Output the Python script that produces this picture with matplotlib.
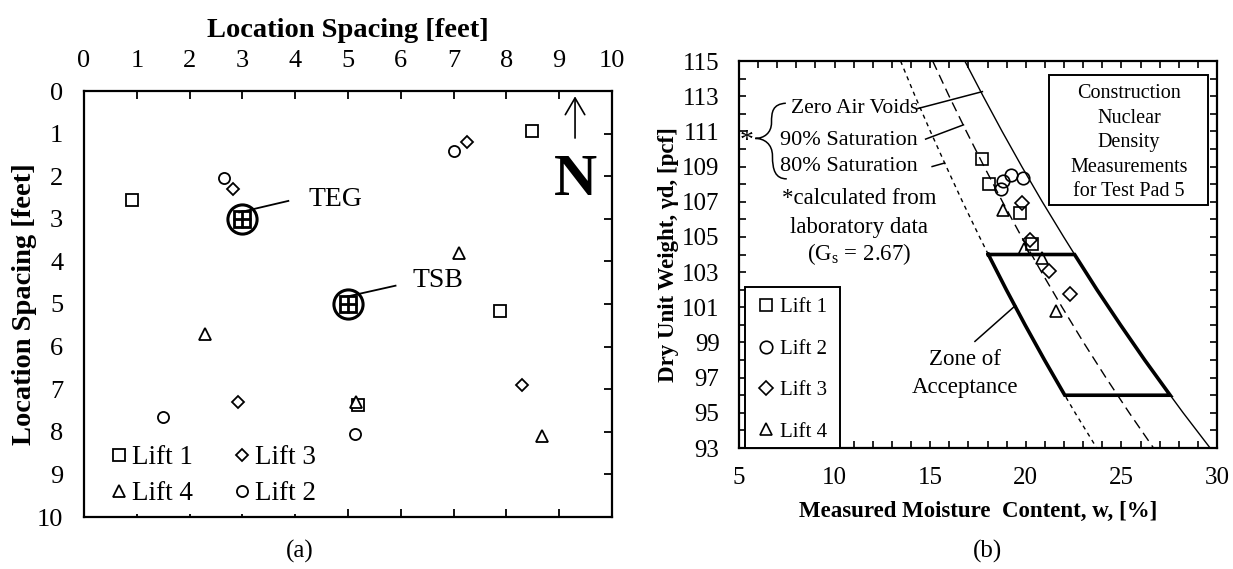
import numpy as np
import matplotlib
matplotlib.use('Agg')
import matplotlib.pyplot as plt
from matplotlib.lines import Line2D
from matplotlib.patches import FancyArrowPatch, Rectangle, PathPatch
from matplotlib.path import Path

plt.rcParams['font.family'] = ['Liberation Serif', 'DejaVu Serif']
plt.rcParams['mathtext.fontset'] = 'custom'
plt.rcParams['mathtext.rm'] = 'Liberation Serif'

# ---- (a) test locations on the pad [feet] ----
lift1_x = [0.9, 8.48, 7.87, 5.18]
lift1_y = [2.55, 0.93, 5.17, 7.38]
lift2_x = [2.65, 7.0, 1.5, 5.13]
lift2_y = [2.05, 1.4, 7.65, 8.05]
lift3_x = [2.83, 7.25, 2.92, 8.3]
lift3_y = [2.3, 1.2, 7.3, 6.9]
lift4_x = [7.1, 2.3, 5.15, 8.67]
lift4_y = [3.8, 5.7, 7.3, 8.1]
probe_names = ['TEG', 'TSB']
probe_x = [3.0, 5.0]
probe_y = [3.0, 5.0]

# ---- (b) nuclear density gauge readings ----
w_lift1 = [17.7, 18.1, 19.7, 20.35]
gd_lift1 = [109.45, 108.0, 106.35, 104.6]
w_lift2 = [18.7, 18.8, 19.25, 19.85]
gd_lift2 = [107.7, 108.15, 108.5, 108.35]
w_lift3 = [19.8, 20.2, 21.2, 22.3]
gd_lift3 = [106.9, 104.85, 103.05, 101.75]
w_lift4 = [18.8, 19.9, 20.85, 21.6]
gd_lift4 = [106.55, 104.3, 103.8, 100.8]

# saturation curves (Gs = 2.67)
gd_levels = [115, 113, 111, 109, 107, 105, 103, 101, 99, 97, 95, 93]
w_zav = [16.81, 17.77, 18.76, 19.79, 20.86, 21.98, 23.13, 24.33, 25.58, 26.88, 28.23, 29.64]
w_sat90 = [15.13, 15.99, 16.89, 17.82, 18.78, 19.78, 20.82, 21.90, 23.02, 24.19, 25.41, 26.68]
w_sat80 = [13.45, 14.21, 15.01, 15.84, 16.69, 17.58, 18.50, 19.46, 20.46, 21.50, 22.58, 23.71]

# zone of acceptance: 80% saturation to zero air voids, 96-104 pcf
zone_gd = [104, 102, 100, 98, 96]
zone_w_left = [18.04, 18.98, 19.96, 20.98, 22.04]
zone_w_right = [22.55, 23.72, 24.95, 26.22, 27.55]

W, H = 1233, 569
fig = plt.figure(figsize=(W / 100, H / 100), dpi=100)

# ================= panel (a) =================
axL = fig.add_axes([84 / W, 1 - 517 / H, 528 / W, 426 / H])
axL.set_xlim(0, 10)
axL.set_ylim(10, 0)
axL.set_xticks(range(11))
axL.set_yticks(range(11))
axL.xaxis.tick_top()
axL.xaxis.set_label_position('top')
axL.tick_params(axis='x', top=True, bottom=True, labeltop=True, labelbottom=False,
                direction='in', length=6, width=1.3, labelsize=19, pad=14)
axL.tick_params(axis='y', left=True, right=True, direction='in', length=6,
                width=1.3, labelsize=19, pad=15)
for t in axL.yaxis.get_major_ticks():
    t.tick1line.set_visible(False)
for s in axL.spines.values():
    s.set_linewidth(1.6)
axL.set_xlabel('Location Spacing [feet]', fontsize=20.5, fontweight='bold', labelpad=9)
axL.set_ylabel('Location Spacing [feet]', fontsize=20.5, fontweight='bold', labelpad=0)

mk = dict(ls='none', mfc='white', mec='black', mew=1.3, ms=8)
axL.plot(lift1_x, lift1_y, marker='s', **mk)
axL.plot(lift2_x, lift2_y, marker='o', **mk)
axL.plot(lift3_x, lift3_y, marker='D', **dict(mk, ms=6.5))
axL.plot(lift4_x, lift4_y, marker='^', **mk)

# probe symbols: circle with a gridded square
axL.plot(probe_x, probe_y, ls='none', marker='o', ms=21, mfc='white', mec='black', mew=2.2)
axL.plot(probe_x, probe_y, ls='none', marker='s', ms=12, mfc='none', mec='black', mew=2.0)
axL.plot(probe_x, probe_y, ls='none', marker='+', ms=13, mec='black', mew=2.0)
leader = {'TEG': ((2.94, 2.85), (3.87, 2.58), (4.25, 2.55)),
          'TSB': ((5.0, 4.82), (5.9, 4.57), (6.23, 4.45))}
for name in probe_names:
    p0, p1, pt = leader[name]
    axL.plot([p0[0], p1[0]], [p0[1], p1[1]], color='black', lw=1.3)
    axL.text(pt[0], pt[1], name, fontsize=20, ha='left', va='center')

# north arrow
axL.add_patch(FancyArrowPatch((9.3, 1.17), (9.3, 0.06),
                              arrowstyle='->,head_length=12,head_width=7',
                              mutation_scale=1, lw=1.2, color='black'))
axL.text(9.3, 2.12, 'N', fontsize=43, fontweight='bold', ha='center', va='center')

hL = [Line2D([], [], marker='s', **mk), Line2D([], [], marker='^', **mk),
      Line2D([], [], marker='D', **dict(mk, ms=6.5)), Line2D([], [], marker='o', **mk)]
legL = axL.legend(hL, ['Lift 1', 'Lift 4', 'Lift 3', 'Lift 2'], ncol=2,
                  loc='lower left', bbox_to_anchor=(0.035, 0.006), fontsize=19.5,
                  frameon=True, facecolor='white', edgecolor='none', framealpha=1,
                  fancybox=False, handlelength=0.6, handletextpad=0.2,
                  columnspacing=1.5, labelspacing=0.4, borderpad=0.3,
                  borderaxespad=0, numpoints=1)
fig.text(300 / W, 1 - 551 / H, '(a)', fontsize=18, ha='center', va='center')

# ================= panel (b) =================
axR = fig.add_axes([739 / W, 1 - 448 / H, 478 / W, 387 / H])
axR.set_xlim(5, 30)
axR.set_ylim(93, 115)
axR.set_xticks(range(5, 31, 5))
axR.set_xticks(range(5, 31), minor=True)
axR.set_yticks(range(93, 116, 2))
axR.set_yticks(range(93, 116), minor=True)
axR.tick_params(which='both', top=True, right=True, direction='in',
                length=5, width=1.2, labelsize=18, pad=14)
for s in axR.spines.values():
    s.set_linewidth(1.6)
axR.set_xlabel('Measured Moisture  Content, w, [%]', fontsize=16.5, fontweight='bold', labelpad=8)
axR.set_ylabel('Dry Unit Weight, γd, [pcf]', fontsize=16.5, fontweight='bold', labelpad=2)

axR.plot(w_zav, gd_levels, color='black', lw=1.0)
axR.plot(w_sat90, gd_levels, color='black', lw=1.0, dashes=(7, 4))
axR.plot(w_sat80, gd_levels, color='black', lw=1.0, dashes=(3, 3))

zone_w = zone_w_left + zone_w_right[::-1] + zone_w_left[:1]
zone_y = zone_gd + zone_gd[::-1] + zone_gd[:1]
axR.plot(zone_w, zone_y, color='black', lw=2.6, solid_joinstyle='miter')

mkR = dict(ls='none', mfc='none', mec='black', mew=1.2, ms=9)
axR.plot(w_lift1, gd_lift1, marker='s', **mkR)
axR.plot(w_lift2, gd_lift2, marker='o', **mkR)
axR.plot(w_lift3, gd_lift3, marker='D', **dict(mkR, ms=7.5))
axR.plot(w_lift4, gd_lift4, marker='^', **mkR)

# curve labels with leaders
axR.text(7.73, 112.3, 'Zero Air Voids', fontsize=15.5, ha='left', va='center')
axR.plot([14.36, 17.73], [112.3, 113.26], color='black', lw=1.1)
axR.text(7.14, 110.46, '90% Saturation', fontsize=16, ha='left', va='center')
axR.plot([14.76, 16.74], [110.56, 111.37], color='black', lw=1.1)
axR.text(7.14, 109.0, '80% Saturation', fontsize=16, ha='left', va='center')
axR.plot([15.1, 15.75], [109.0, 109.2], color='black', lw=1.1)

brace = Path([(7.45, 112.6), (6.75, 112.55), (6.7, 112.1), (6.7, 111.5),
              (6.7, 110.9), (6.3, 110.6), (5.85, 110.6),
              (6.3, 110.6), (6.75, 110.3), (6.75, 109.6),
              (6.75, 108.8), (6.9, 108.3), (7.5, 108.3)],
             [Path.MOVETO] + [Path.CURVE4] * 12)
axR.add_patch(PathPatch(brace, fc='none', ec='black', lw=1.1))
axR.text(5.4, 110.4, '*', fontsize=20, ha='center', va='center')

axR.text(11.3, 107.2, '*calculated from', fontsize=16.5, ha='center', va='center')
axR.text(11.3, 105.55, 'laboratory data', fontsize=16.5, ha='center', va='center')
axR.text(11.3, 104.0, '(G$_\\mathrm{s}$ = 2.67)', fontsize=16.5, ha='center', va='center')

axR.text(16.84, 98.05, 'Zone of', fontsize=16.5, ha='center', va='center')
axR.text(16.84, 96.43, 'Acceptance', fontsize=16.5, ha='center', va='center')
axR.plot([17.34, 19.46], [99.06, 101.1], color='black', lw=1.1)

axR.add_patch(Rectangle((21.23, 106.8), 8.32, 7.4, fc='white', ec='black', lw=1.4))
axR.text(25.39, 110.35, 'Construction\nNuclear\nDensity\nMeasurements\nfor Test Pad 5',
         fontsize=14.5, ha='center', va='center', linespacing=1.4)

# legend sits in its own framed box in the lower-left corner
axR.add_patch(Rectangle((5.3, 93), 4.97, 9.14, fc='white', ec='black', lw=1.4, zorder=3))
hR = [Line2D([], [], marker='s', **mkR), Line2D([], [], marker='o', **mkR),
      Line2D([], [], marker='D', **dict(mkR, ms=7.5)), Line2D([], [], marker='^', **mkR)]
legR = axR.legend(hR, ['Lift 1', 'Lift 2', 'Lift 3', 'Lift 4'], loc='lower left',
                  bbox_to_anchor=(0.026, 0.0), fontsize=15, frameon=False,
                  handlelength=0.8, handletextpad=0.25, labelspacing=1.05,
                  borderpad=0.3, borderaxespad=0, numpoints=1)
fig.text(987 / W, 1 - 551 / H, '(b)', fontsize=18, ha='center', va='center')

fig.savefig('out.png', dpi=100)
